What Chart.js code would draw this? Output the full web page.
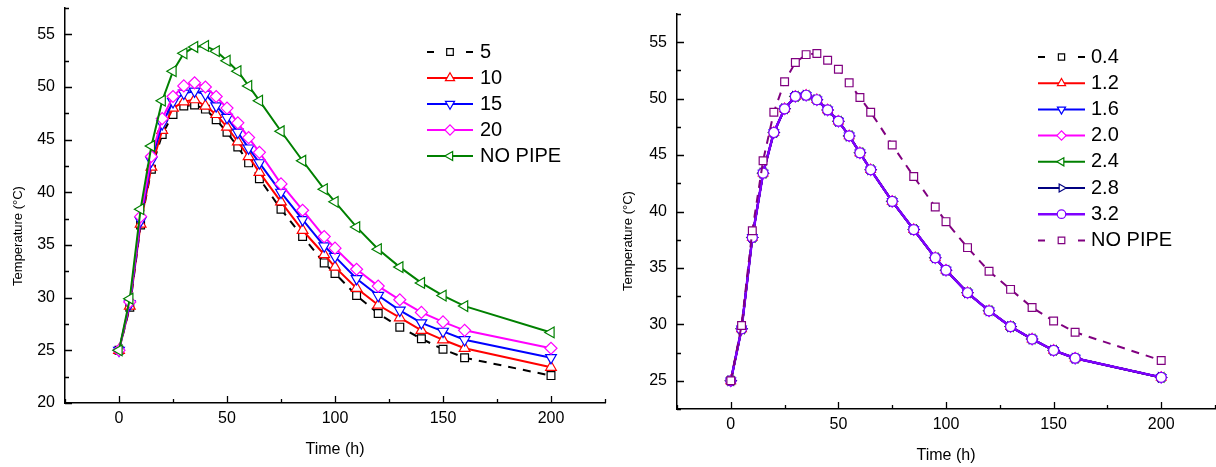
<!DOCTYPE html>
<html>
<head>
<meta charset="utf-8">
<title>Temperature vs time</title>
<script src="https://cdn.jsdelivr.net/npm/chart.js@4.4.1/dist/chart.umd.min.js"></script>
<style>
    html, body { margin: 0; padding: 0; background: #fff; }
    .panel { position: absolute; top: 0; width: 608px; height: 467px; }
    #leftPanel { left: 0; }
    #rightPanel { left: 608px; }
</style>
</head>
<body>
<div class="panel" id="leftPanel"><canvas id="chartLeft" width="608" height="467"></canvas></div>
<div class="panel" id="rightPanel"><canvas id="chartRight" width="608" height="467"></canvas></div>
<script>
// Time axis (h), shared by every series
const timeH = [0, 5, 10, 15, 20, 25, 30, 35, 40, 45, 50, 55, 60, 65, 75, 85, 95, 100, 110, 120, 130, 140, 150, 160, 200];

// Left panel: pipe spacing
const left5 = [25, 29.1, 36.9, 42.2, 45.5, 47.4, 48.2, 48.3, 47.9, 46.9, 45.7, 44.3, 42.8, 41.3, 38.4, 35.8, 33.3, 32.3, 30.2, 28.5, 27.2, 26.1, 25.1, 24.3, 22.6];
const left10 = [25, 29.2, 37.0, 42.4, 45.9, 48.0, 48.6, 48.8, 48.2, 47.4, 46.2, 44.8, 43.4, 41.9, 39.1, 36.4, 34.1, 32.9, 30.9, 29.3, 28.1, 26.9, 26.0, 25.2, 23.4];
const left15 = [25, 29.4, 37.3, 43.0, 46.5, 48.6, 49.4, 49.6, 49.3, 48.2, 47.1, 45.7, 44.2, 42.8, 40.0, 37.4, 34.9, 33.9, 31.8, 30.2, 28.8, 27.6, 26.8, 26.0, 24.3];
const left20 = [25, 29.6, 37.7, 43.4, 47.0, 49.1, 50.1, 50.4, 50.0, 49.1, 48.0, 46.6, 45.2, 43.8, 40.8, 38.3, 35.8, 34.7, 32.7, 31.1, 29.8, 28.6, 27.7, 26.9, 25.2];
const leftNoPipe = [25, 29.9, 38.4, 44.4, 48.7, 51.5, 53.2, 53.8, 53.9, 53.4, 52.5, 51.5, 50.1, 48.7, 45.8, 43.0, 40.3, 39.1, 36.7, 34.6, 32.9, 31.4, 30.2, 29.2, 26.7];

// Right panel: flow rate (curves lie on top of each other)
const right04 = [25, 29.6, 37.7, 43.4, 47.0, 49.1, 50.2, 50.3, 49.9, 49.0, 48.0, 46.7, 45.2, 43.7, 40.9, 38.4, 35.9, 34.8, 32.8, 31.2, 29.8, 28.7, 27.7, 27.0, 25.3];
const right12 = [25, 29.6, 37.7, 43.4, 47.0, 49.1, 50.2, 50.3, 49.9, 49.0, 48.0, 46.7, 45.2, 43.7, 40.9, 38.4, 35.9, 34.8, 32.8, 31.2, 29.8, 28.7, 27.7, 27.0, 25.3];
const right16 = [25, 29.6, 37.7, 43.4, 47.0, 49.1, 50.2, 50.3, 49.9, 49.0, 48.0, 46.7, 45.2, 43.7, 40.9, 38.4, 35.9, 34.8, 32.8, 31.2, 29.8, 28.7, 27.7, 27.0, 25.3];
const right20 = [25, 29.6, 37.7, 43.4, 47.0, 49.1, 50.2, 50.3, 49.9, 49.0, 48.0, 46.7, 45.2, 43.7, 40.9, 38.4, 35.9, 34.8, 32.8, 31.2, 29.8, 28.7, 27.7, 27.0, 25.3];
const right24 = [25, 29.6, 37.7, 43.4, 47.0, 49.1, 50.2, 50.3, 49.9, 49.0, 48.0, 46.7, 45.2, 43.7, 40.9, 38.4, 35.9, 34.8, 32.8, 31.2, 29.8, 28.7, 27.7, 27.0, 25.3];
const right28 = [25, 29.6, 37.7, 43.4, 47.0, 49.1, 50.2, 50.3, 49.9, 49.0, 48.0, 46.7, 45.2, 43.7, 40.9, 38.4, 35.9, 34.8, 32.8, 31.2, 29.8, 28.7, 27.7, 27.0, 25.3];
const right32 = [25, 29.6, 37.7, 43.4, 47.0, 49.1, 50.2, 50.3, 49.9, 49.0, 48.0, 46.7, 45.2, 43.7, 40.9, 38.4, 35.9, 34.8, 32.8, 31.2, 29.8, 28.7, 27.7, 27.0, 25.3];
const rightNoPipe = [25, 29.9, 38.3, 44.5, 48.8, 51.5, 53.2, 53.9, 54.0, 53.4, 52.6, 51.4, 50.1, 48.8, 45.9, 43.1, 40.4, 39.1, 36.8, 34.7, 33.1, 31.5, 30.3, 29.3, 26.8];

const FONT = '"Liberation Sans", Arial, sans-serif';

function toPoints(values) {
    return values.map((v, i) => ({ x: timeH[i], y: v }));
}

function series(label, values, color, style, opts = {}) {
    return {
        label: label,
        data: toPoints(values),
        borderColor: color,
        borderWidth: opts.width || 2,
        borderDash: opts.dashed ? [8, 7] : [],
        pointStyle: style,
        pointRotation: opts.rotation || 0,
        pointRadius: opts.radius || 5.5,
        pointBorderColor: opts.markerColor || color,
        pointBackgroundColor: '#fff',
        pointBorderWidth: 1.2,
        tension: 0,
        fill: false
    };
}

// Ticks pointing into the plot, long on labelled values
const innerTicks = {
    id: 'innerTicks',
    afterDraw(chart) {
        const { ctx, chartArea, scales } = chart;
        ctx.save();
        ctx.strokeStyle = '#000';
        ctx.lineWidth = 1.3;
        ctx.beginPath();
        scales.x.ticks.forEach(t => {
            const px = Math.round(scales.x.getPixelForValue(t.value)) + 0.5;
            const len = t.value % 50 === 0 ? 7 : 4;
            ctx.moveTo(px, chartArea.bottom);
            ctx.lineTo(px, chartArea.bottom - len);
        });
        scales.y.ticks.forEach(t => {
            const py = Math.round(scales.y.getPixelForValue(t.value)) + 0.5;
            const len = Math.abs(t.value % 5) < 1e-6 ? 7 : 4;
            ctx.moveTo(chartArea.left, py);
            ctx.lineTo(chartArea.left + len, py);
        });
        ctx.stroke();
        ctx.restore();
    }
};

const axisTitles = {
    id: 'axisTitles',
    afterDraw(chart, args, opts) {
        const { ctx, chartArea } = chart;
        ctx.save();
        ctx.fillStyle = '#000';
        ctx.textAlign = 'center';
        ctx.textBaseline = 'middle';
        ctx.font = '16px ' + FONT;
        ctx.fillText('Time (h)', (chartArea.left + chartArea.right) / 2, opts.xTitleY);
        ctx.translate(opts.yTitleX, opts.yTitleY);
        ctx.rotate(-Math.PI / 2);
        ctx.font = '13px ' + FONT;
        ctx.fillText('Temperature (\u00B0C)', 0, 0);
        ctx.restore();
    }
};

// Legend with line sample + marker, like the original plot
const sideLegend = {
    id: 'sideLegend',
    afterDraw(chart, args, opts) {
        const ctx = chart.ctx;
        const mid = (opts.lineStart + opts.lineEnd) / 2;
        ctx.save();
        chart.data.datasets.forEach((ds, i) => {
            const y = opts.top + i * opts.rowGap;
            ctx.strokeStyle = ds.borderColor;
            ctx.lineWidth = ds.borderWidth;
            ctx.setLineDash(ds.borderDash.length ? [7, opts.lineEnd - opts.lineStart - 14] : []);
            ctx.beginPath();
            ctx.moveTo(opts.lineStart, y);
            ctx.lineTo(opts.lineEnd, y);
            ctx.stroke();
            ctx.setLineDash([]);
            ctx.fillStyle = '#fff';
            ctx.strokeStyle = ds.pointBorderColor;
            ctx.lineWidth = ds.pointBorderWidth;
            Chart.helpers.drawPoint(ctx, {
                pointStyle: ds.pointStyle,
                rotation: ds.pointRotation,
                radius: ds.pointRadius * 0.85,
                borderWidth: ds.pointBorderWidth
            }, mid, y);
            ctx.fillStyle = '#000';
            ctx.font = '20px ' + FONT;
            ctx.textAlign = 'left';
            ctx.textBaseline = 'middle';
            ctx.fillText(ds.label, opts.textX, y);
        });
        ctx.restore();
    }
};

// fixed axis box size, and no automatic padding for the end labels
function fixBox(prop, size) {
    return s => {
        s[prop] = size;
        s.paddingTop = 0;
        s.paddingBottom = 0;
        s.paddingLeft = 0;
        s.paddingRight = 0;
    };
}

function makeScales(yMin, xHeight, yWidth) {
    return {
        x: {
            type: 'linear',
            min: -25,
            max: 225,
            afterFit: fixBox('height', xHeight),
            ticks: {
                stepSize: 25,
                autoSkip: false,
                maxRotation: 0,
                padding: 6,
                color: '#000',
                font: { family: FONT, size: 16 },
                callback: v => (v % 50 === 0 ? String(v) : '')
            },
            grid: { display: false, drawTicks: false },
            border: { display: true, color: '#000', width: 1.5 }
        },
        y: {
            type: 'linear',
            min: yMin,
            max: 57.5,
            afterFit: fixBox('width', yWidth),
            ticks: {
                stepSize: 2.5,
                autoSkip: false,
                padding: 10,
                color: '#000',
                font: { family: FONT, size: 16 },
                callback: v => (Math.abs(v % 5) < 1e-6 ? String(v) : '')
            },
            grid: { display: false, drawTicks: false },
            border: { display: true, color: '#000', width: 1.5 }
        }
    };
}

function drawChart(canvasId, datasets, cfg) {
    // later series drawn on top
    datasets.forEach((ds, i) => { ds.order = -i; });
    return new Chart(document.getElementById(canvasId), {
        type: 'line',
        data: { datasets: datasets },
        options: {
            responsive: false,
            animation: false,
            events: [],
            layout: {
                autoPadding: false,
                padding: { top: cfg.padTop, right: cfg.padRight, left: 0, bottom: 0 }
            },
            scales: makeScales(cfg.yMin, cfg.xHeight, cfg.yWidth),
            plugins: {
                legend: { display: false },
                tooltip: { enabled: false },
                axisTitles: cfg.titles,
                sideLegend: cfg.legend
            }
        },
        plugins: [innerTicks, axisTitles, sideLegend]
    });
}

drawChart('chartLeft', [
    series('5', left5, '#000000', 'rect', { dashed: true, radius: 5.5 }),
    series('10', left10, '#ff0000', 'triangle', { radius: 6.2 }),
    series('15', left15, '#0000ff', 'triangle', { rotation: 180, radius: 6.2 }),
    series('20', left20, '#ff00ff', 'rectRot', { radius: 6 }),
    series('NO PIPE', leftNoPipe, '#008000', 'triangle', { rotation: -90, radius: 6.2 })
], {
    yMin: 20, xHeight: 64, yWidth: 65, padTop: 8, padRight: 3,
    titles: { xTitleY: 450, yTitleX: 18, yTitleY: 236 },
    legend: { top: 52, rowGap: 26, lineStart: 427, lineEnd: 473, textX: 480 }
});

drawChart('chartRight', [
    series('0.4', right04, '#000000', 'rect', { dashed: true, radius: 5.2 }),
    series('1.2', right12, '#ff0000', 'triangle', { radius: 5.5 }),
    series('1.6', right16, '#0000ff', 'triangle', { rotation: 180, radius: 5.5 }),
    series('2.0', right20, '#ff00ff', 'rectRot', { radius: 5.5 }),
    series('2.4', right24, '#008000', 'triangle', { rotation: -90, radius: 5.5 }),
    series('2.8', right28, '#000080', 'triangle', { rotation: 90, radius: 5.5 }),
    series('3.2', right32, '#7f00ff', 'circle', { radius: 5, width: 2.5 }),
    series('NO PIPE', rightNoPipe, '#800080', 'rect', { dashed: true, radius: 5.5 })
], {
    yMin: 22.5, xHeight: 58, yWidth: 69, padTop: 14, padRight: 1,
    titles: { xTitleY: 456, yTitleX: 20, yTitleY: 241 },
    legend: { top: 57, rowGap: 26.2, lineStart: 430, lineEnd: 477, textX: 483 }
});
</script>
</body>
</html>
